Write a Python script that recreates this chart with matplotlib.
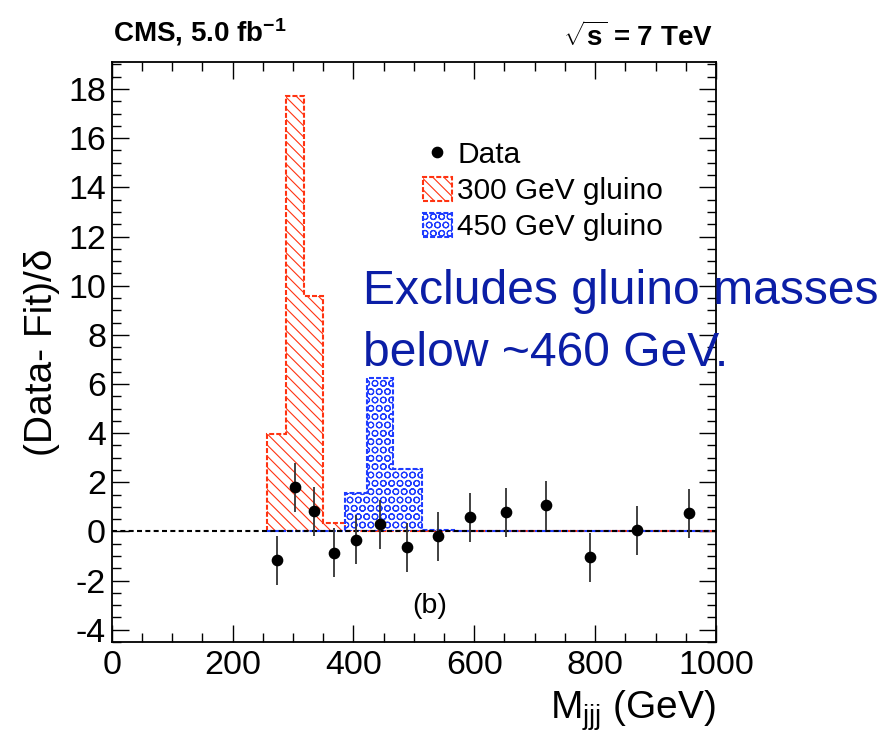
import numpy as np
import matplotlib
matplotlib.use("Agg")
import matplotlib.pyplot as plt
import matplotlib.patches as mpatches
from matplotlib.lines import Line2D
from matplotlib.ticker import MultipleLocator

plt.rcParams['font.family'] = ['Liberation Sans', 'DejaVu Sans']
plt.rcParams['mathtext.fontset'] = 'custom'
plt.rcParams['mathtext.rm'] = 'Liberation Sans'
plt.rcParams['mathtext.it'] = 'Liberation Sans'
plt.rcParams['mathtext.bf'] = 'Liberation Sans:bold'
plt.rcParams['axes.unicode_minus'] = False
plt.rcParams['hatch.linewidth'] = 0.8

# bin edges of the trijet mass (GeV)
edges = [257, 289, 318, 350, 386, 423, 466, 513, 566, 621, 685, 752, 830, 910, 1000]
centers = [273, 303.5, 334, 368, 404.5, 444.5, 489.5, 539.5, 593.5, 653, 718.5, 791, 870, 955]

# (Data - Fit)/delta
data_y = [-1.18, 1.80, 0.82, -0.86, -0.33, 0.29, -0.65, -0.20, 0.57, 0.78, 1.06, -1.06, 0.04, 0.73]
data_err = [1.0] * 14

# signal templates
gluino300 = [3.96, 17.7, 9.6, 0.33, 0, 0, 0, 0, 0, 0, 0, 0, 0, 0]
gluino450 = [0, 0, 0, 0, 1.55, 6.24, 2.53, 0.05, 0, 0, 0, 0, 0, 0]

red = '#ff3311'
blue = '#1f3cff'
navy = '#0b1ea6'
dash = (0, (2.4, 1.0))

fig = plt.figure(figsize=(8.94, 7.34), dpi=100)
ax = fig.add_axes([0.1249, 0.1253, 0.676, 0.7902])

ax.stairs(gluino300, edges, fill=True, facecolor='none', edgecolor=red,
          hatch='\\\\\\', linewidth=1.5, linestyle=dash, zorder=2)
ax.stairs(gluino450, edges, fill=True, facecolor='none', edgecolor=blue,
          hatch='OO', linewidth=1.5, linestyle=dash, zorder=2)
ax.axhline(0, color='k', lw=1.5, ls=(0, (2.4, 1.6)), zorder=3)
ax.errorbar(centers, data_y, yerr=data_err, fmt='o', color='k', ecolor='#333333',
            elinewidth=1.3, capsize=0, ms=7.4, zorder=4)

ax.set_xlim(0, 1000)
ax.set_ylim(-4.5, 19.1)
ax.xaxis.set_major_locator(MultipleLocator(200))
ax.xaxis.set_minor_locator(MultipleLocator(50))
ax.yaxis.set_major_locator(MultipleLocator(2))
ax.yaxis.set_minor_locator(MultipleLocator(0.5))
ax.tick_params(which='both', direction='in', top=True, right=True, width=1.0)
ax.tick_params(which='major', length=12.5)
ax.tick_params(which='minor', length=6.5)
ax.tick_params(axis='x', labelsize=24.5, pad=6)
ax.tick_params(axis='y', labelsize=24.5, pad=4)
for s in ax.spines.values():
    s.set_linewidth(1.3)

ax.set_ylabel('(Data- Fit)/δ', fontsize=28, labelpad=6)
ax.set_xlabel('M$_{\\mathrm{jjj}}$ (GeV)', fontsize=28, loc='right', labelpad=5)

ax.text(527, -3.3, '(b)', fontsize=20.5, ha='center', va='baseline')

handles = [
    Line2D([], [], marker='o', ls='none', color='k', ms=7.4),
    mpatches.Patch(facecolor='none', edgecolor=red, hatch='\\\\\\', lw=1.5, linestyle=dash),
    mpatches.Patch(facecolor='none', edgecolor=blue, hatch='OO', lw=1.5, linestyle=dash),
]
labels = ['Data', '300 GeV gluino', '450 GeV gluino']
ax.legend(handles, labels, loc='upper left', bbox_to_anchor=(423 / 894, 1 - 141 / 734),
          bbox_transform=fig.transFigure, frameon=False, fontsize=21.5, borderpad=0,
          borderaxespad=0, handlelength=0.97, handleheight=0.87, handletextpad=0.17,
          labelspacing=0.25)

fig.text(113 / 894, 1 - 42 / 734, 'CMS, 5.0 fb$^{\\mathbf{-1}}$', fontsize=20,
         fontweight='bold', va='baseline', ha='left')
fig.text(713 / 894, 1 - 46 / 734, '$\\sqrt{\\mathbf{s}}$ = 7 TeV', fontsize=20,
         fontweight='bold', va='baseline', ha='right')

fig.text(363 / 894, 1 - 304 / 734, 'Excludes gluino masses', fontsize=34.6,
         color=navy, va='baseline', ha='left', zorder=10)
fig.text(363 / 894, 1 - 366 / 734, 'below ~460 GeV.', fontsize=34.6,
         color=navy, va='baseline', ha='left', zorder=10)

fig.savefig('out.png', dpi=100)
